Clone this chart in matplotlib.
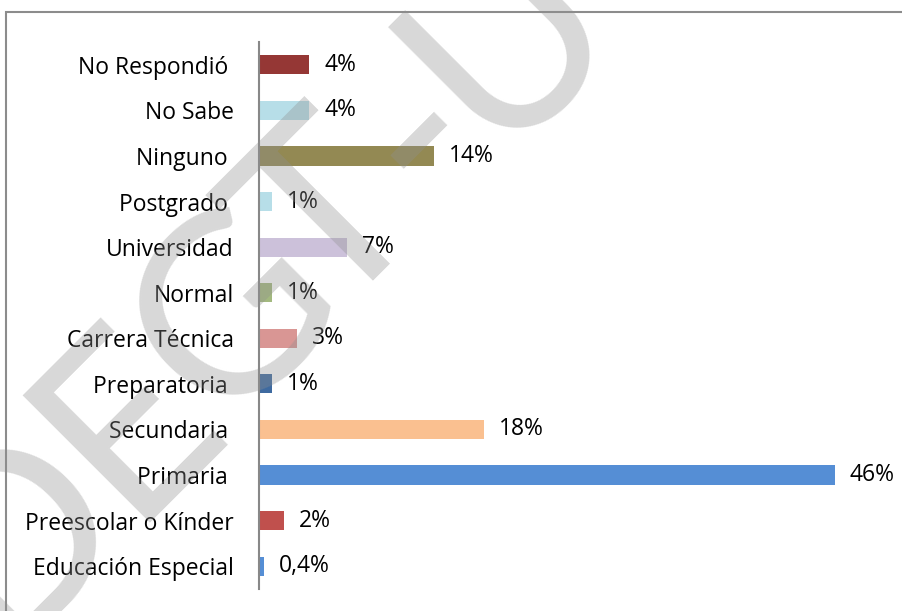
import numpy as np
import matplotlib
matplotlib.use("Agg")
import matplotlib.pyplot as plt
from matplotlib.patches import Rectangle

categories = ["No Respondió ", "No Sabe", "Ninguno ", "Postgrado ", "Universidad",
              "Normal", "Carrera Técnica", "Preparatoria ", "Secundaria ", "Primaria ",
              "Preescolar o Kínder", "Educación Especial"]
values = [4, 4, 14, 1, 7, 1, 3, 1, 18, 46, 2, 0.4]
labels = ["4%", "4%", "14%", "1%", "7%", "1%", "3%", "1%", "18%", "46%", "2%", "0,4%"]
colors = ["#953735", "#b7dee8", "#938953", "#b7dee8", "#ccc1da", "#a3b97f",
          "#d99694", "#3e6aa0", "#fac090", "#558ed5", "#c0504d", "#558ed5"]

plt.rcParams["font.family"] = ["Open Sans", "DejaVu Sans"]
fs = 16.5

W, H = 902, 611
fig = plt.figure(figsize=(W / 100, H / 100), dpi=100)
ax = fig.add_axes([259 / W, 1 - 589 / H, 626 / W, 547 / H])

y = np.arange(len(categories))
ax.barh(y, values, height=0.42, color=colors)
for yi, v, lab in zip(y, values, labels):
    ax.text(v + 1.2, yi, lab, va="center", ha="left", fontsize=fs, color="black")

ax.set_yticks(y)
ax.set_yticklabels(categories, fontsize=fs)
ax.tick_params(axis="y", length=0, pad=18)
ax.set_ylim(len(categories) - 0.5, -0.5)
ax.set_xlim(0, 50)
ax.set_xticks([])
for s in ["top", "right", "bottom"]:
    ax.spines[s].set_visible(False)
ax.spines["left"].set_color("#888888")
ax.spines["left"].set_linewidth(1.5)

# outer frame
fig.patches.append(Rectangle((6 / W, -0.2), 1.2, 1.2 - 12 / H, transform=fig.transFigure,
                             fill=False, edgecolor="#8c8c8c", linewidth=1.5, clip_on=False))

# watermark, one letter at a time along the diagonal
for ch, d in zip("DEGT-U", [-520, -294, -80, 110, 285, 470]):
    bx, by = (650 + d) / 2, (650 - d) / 2
    fig.text(bx / W, 1 - by / H, ch, rotation=45, rotation_mode="anchor",
             ha="center", va="baseline", fontsize=180, color="#909090", alpha=0.35,
             family="Lato")

fig.savefig("out.png", dpi=100)
